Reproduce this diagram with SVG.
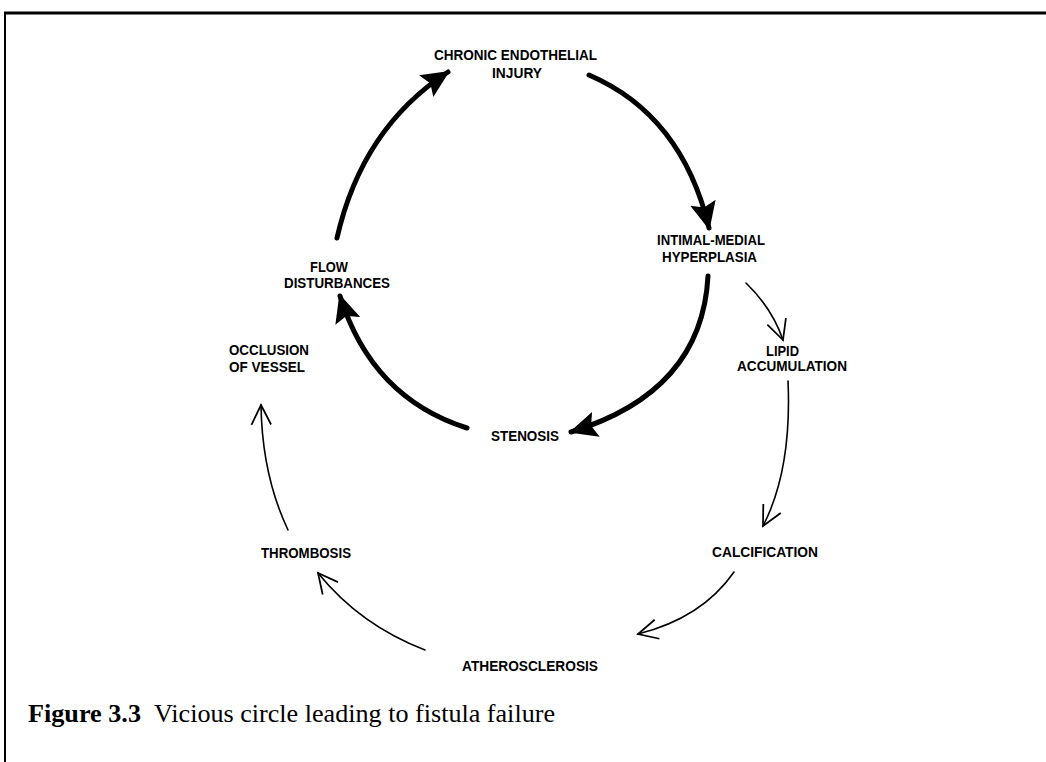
<svg xmlns="http://www.w3.org/2000/svg" width="1046" height="762" viewBox="0 0 1046 762">
<style>
.lbl{font-family:"Liberation Sans",Arial,sans-serif;font-weight:bold;font-size:14px;fill:#000}
.thick{fill:none;stroke:#000;stroke-width:5;stroke-linecap:round}
.thin{fill:none;stroke:#000;stroke-width:1.6;stroke-linecap:round}
.cap{font-family:"Liberation Serif","Times New Roman",serif;font-size:26px;fill:#000}
</style>
<defs>
<marker id="solid" markerUnits="userSpaceOnUse" markerWidth="32" markerHeight="32" refX="26" refY="13" orient="auto" viewBox="0 0 32 26">
<path d="M0 0 L28 13 L0 26 L5 13 Z" fill="#000"/>
</marker>
<marker id="open" markerUnits="userSpaceOnUse" markerWidth="24" markerHeight="24" refX="20" refY="10" orient="auto" viewBox="0 0 22 20">
<path d="M2 1 L20 10 L2 19" fill="none" stroke="#000" stroke-width="1.6" stroke-linejoin="miter"/>
</marker>
</defs>
<rect width="1046" height="762" fill="#fff"/>
<g id="frame">
<line x1="4" y1="13" x2="1046" y2="13" stroke="#000" stroke-width="3"/>
<line x1="5" y1="12" x2="5" y2="762" stroke="#000" stroke-width="2"/>
</g>
<g id="connectors">
<path class="thick" d="M337 238 Q362 128 448 72" marker-end="url(#solid)"/>
<path class="thick" d="M589 75 Q682 115 709 228" marker-end="url(#solid)"/>
<path class="thick" d="M708 276 Q702 392 571 432" marker-end="url(#solid)"/>
<path class="thick" d="M467 428 Q372 398 340 296" marker-end="url(#solid)"/>
<path class="thin" d="M746 283 Q772 308 783 340" marker-end="url(#open)"/>
<path class="thin" d="M788 381 Q792 470 763 526" marker-end="url(#open)"/>
<path class="thin" d="M734 572 Q702 618 638 634" marker-end="url(#open)"/>
<path class="thin" d="M425 650 Q360 625 318 573" marker-end="url(#open)"/>
<path class="thin" d="M288 530 Q262 475 261 405" marker-end="url(#open)"/>
</g>
<g id="n-chronic"><text class="lbl" x="434" y="60" textLength="163" lengthAdjust="spacingAndGlyphs">CHRONIC ENDOTHELIAL</text><text class="lbl" x="492" y="78" textLength="50" lengthAdjust="spacingAndGlyphs">INJURY</text></g>
<g id="n-intimal"><text class="lbl" x="657" y="245" textLength="108" lengthAdjust="spacingAndGlyphs">INTIMAL-MEDIAL</text><text class="lbl" x="662" y="262" textLength="95" lengthAdjust="spacingAndGlyphs">HYPERPLASIA</text></g>
<g id="n-flow"><text class="lbl" x="310" y="272" textLength="38" lengthAdjust="spacingAndGlyphs">FLOW</text><text class="lbl" x="284" y="288" textLength="106" lengthAdjust="spacingAndGlyphs">DISTURBANCES</text></g>
<g id="n-occlusion"><text class="lbl" x="229" y="355" textLength="80" lengthAdjust="spacingAndGlyphs">OCCLUSION</text><text class="lbl" x="229" y="372" textLength="76" lengthAdjust="spacingAndGlyphs">OF VESSEL</text></g>
<g id="n-stenosis"><text class="lbl" x="491" y="441" textLength="68" lengthAdjust="spacingAndGlyphs">STENOSIS</text></g>
<g id="n-lipid"><text class="lbl" x="766" y="356" textLength="33" lengthAdjust="spacingAndGlyphs">LIPID</text><text class="lbl" x="737" y="371" textLength="110" lengthAdjust="spacingAndGlyphs">ACCUMULATION</text></g>
<g id="n-thrombosis"><text class="lbl" x="261" y="558" textLength="90" lengthAdjust="spacingAndGlyphs">THROMBOSIS</text></g>
<g id="n-calcification"><text class="lbl" x="712" y="557" textLength="106" lengthAdjust="spacingAndGlyphs">CALCIFICATION</text></g>
<g id="n-athero"><text class="lbl" x="462" y="671" textLength="136" lengthAdjust="spacingAndGlyphs">ATHEROSCLEROSIS</text></g>
<g id="caption"><text class="cap" x="28" y="722" font-weight="bold" textLength="113" lengthAdjust="spacingAndGlyphs">Figure 3.3</text><text class="cap" x="154" y="722" textLength="401" lengthAdjust="spacingAndGlyphs">Vicious circle leading to fistula failure</text></g>
</svg>
